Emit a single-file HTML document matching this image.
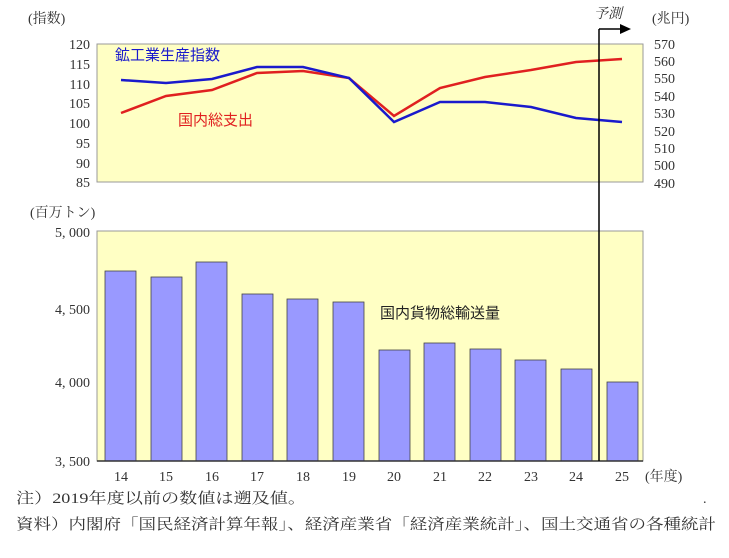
<!DOCTYPE html>
<html><head><meta charset="utf-8"><style>
body{margin:0;background:#fff;width:729px;height:553px;overflow:hidden}
text{font-family:"Liberation Serif","Noto Serif CJK SC",serif;fill:#333}
.s{font-family:"Liberation Sans","Noto Sans CJK JP",sans-serif}
</style></head><body>
<svg width="729" height="553" viewBox="0 0 729 553">
<rect x="97" y="44" width="546" height="138" fill="#ffffc4" stroke="#999" stroke-width="1"/>
<rect x="97" y="231" width="546" height="230" fill="#ffffc4" stroke="#999" stroke-width="1"/>
<g font-size="14" text-anchor="end">
<text x="90" y="49">120</text><text x="90" y="69">115</text><text x="90" y="89">110</text><text x="90" y="108">105</text><text x="90" y="128">100</text><text x="90" y="148">95</text><text x="90" y="168">90</text><text x="90" y="187">85</text>
<text x="90" y="237">5, 000</text><text x="90" y="314">4, 500</text><text x="90" y="387">4, 000</text><text x="90" y="466">3, 500</text>
</g>
<g font-size="14">
<text x="654" y="49">570</text><text x="654" y="66">560</text><text x="654" y="83">550</text><text x="654" y="101">540</text><text x="654" y="118">530</text><text x="654" y="136">520</text><text x="654" y="153">510</text><text x="654" y="170">500</text><text x="654" y="188">490</text>
<text x="28" y="23">(指数)</text><text x="652" y="23">(兆円)</text><text x="30" y="217">(百万トン)</text>
</g>
<g fill="#9999ff" stroke="#444" stroke-width="0.8">
<rect x="105" y="271" width="31" height="190"/><rect x="151" y="277" width="31" height="184"/><rect x="196" y="262" width="31" height="199"/><rect x="242" y="294" width="31" height="167"/><rect x="287" y="299" width="31" height="162"/><rect x="333" y="302" width="31" height="159"/><rect x="379" y="350" width="31" height="111"/><rect x="424" y="343" width="31" height="118"/><rect x="470" y="349" width="31" height="112"/><rect x="515" y="360" width="31" height="101"/><rect x="561" y="369" width="31" height="92"/><rect x="607" y="382" width="31" height="79"/>
</g>
<line x1="97" y1="461" x2="643" y2="461" stroke="#333" stroke-width="1.5"/>
<polyline fill="none" stroke="#e02020" stroke-width="2.5" points="121,113 166,96 212,90 257,73 303,71 349,78 394,116 440,88 485,77 531,70 576,62 622,59"/>
<polyline fill="none" stroke="#1a1acc" stroke-width="2.5" points="121,80 166,83 212,79 257,67 303,67 349,78 394,122 440,102 485,102 531,107 576,118 622,122"/>
<text class="s" x="115" y="60" font-size="15" style="fill:#1a1acc">鉱工業生産指数</text>
<text class="s" x="178" y="125" font-size="15" style="fill:#e02020">国内総支出</text>
<text class="s" x="380" y="318" font-size="15" style="fill:#222">国内貨物総輸送量</text>
<line x1="599" y1="29" x2="599" y2="461" stroke="#000" stroke-width="1.5"/>
<line x1="599" y1="29" x2="622" y2="29" stroke="#000" stroke-width="1.5"/>
<polygon points="620,24 631,29 620,34" fill="#000"/>
<text x="594" y="18" font-size="14" font-style="italic">予測</text>
<g font-size="14" text-anchor="middle">
<text x="121" y="481">14</text><text x="166" y="481">15</text><text x="212" y="481">16</text><text x="257" y="481">17</text><text x="303" y="481">18</text><text x="349" y="481">19</text><text x="394" y="481">20</text><text x="440" y="481">21</text><text x="485" y="481">22</text><text x="531" y="481">23</text><text x="576" y="481">24</text><text x="622" y="481">25</text>
</g>
<text x="645" y="481" font-size="14">(年度)</text>
<text x="16" y="503" font-size="15" textLength="290" lengthAdjust="spacingAndGlyphs">注）2019年度以前の数値は遡及値。</text>
<text x="16" y="529" font-size="15" textLength="700" lengthAdjust="spacingAndGlyphs">資料）内閣府「国民経済計算年報」、経済産業省「経済産業統計」、国土交通省の各種統計</text>
<text x="703" y="503" font-size="14">.</text>
</svg>
</body></html>
